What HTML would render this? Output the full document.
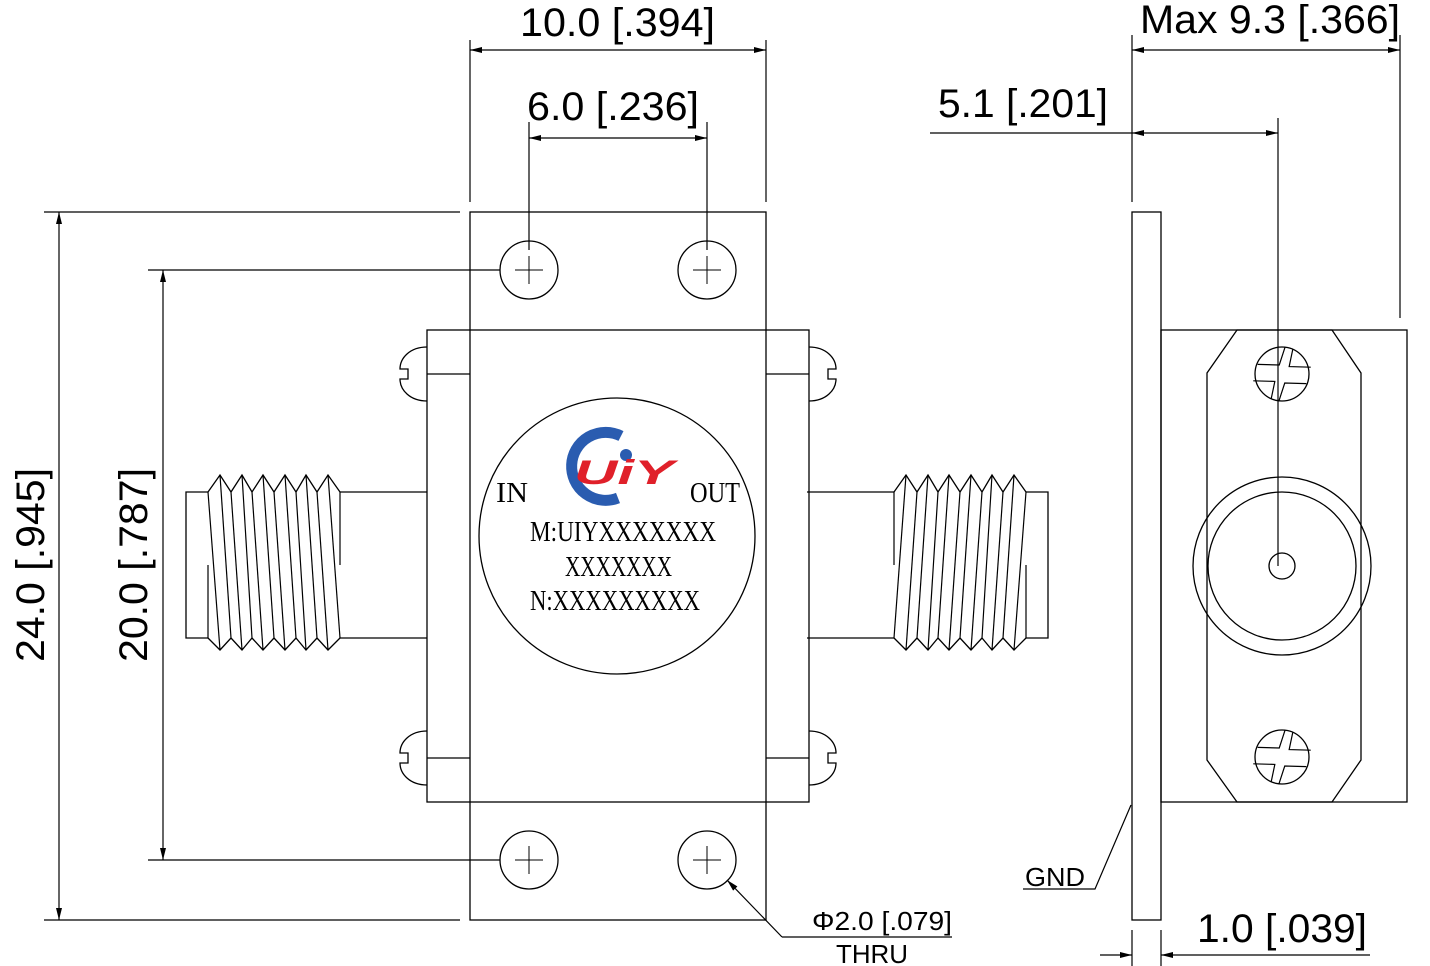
<!DOCTYPE html>
<html><head><meta charset="utf-8"><style>
html,body{margin:0;padding:0;background:#fff;}
svg{display:block;}
.d{font-family:"Liberation Sans",sans-serif;fill:#000;}
.s{font-family:"Liberation Serif",serif;fill:#000;}
</style></head><body>
<svg width="1430" height="966" viewBox="0 0 1430 966" xmlns="http://www.w3.org/2000/svg">
<defs>
<marker id="a" viewBox="0 0 12 6" refX="12" refY="3" markerWidth="12" markerHeight="6" orient="auto-start-reverse" markerUnits="userSpaceOnUse"><path d="M0,0 L12,3 L0,6 z" fill="#000"/></marker>
<g id="thr">
<polyline fill="none" stroke="#000" stroke-width="1.3" points="208,492 220,475 231,492 242,475 252,492 263,475 274,492 285,475 296,492 306,475 317,492 328,475 340,492"/>
<polyline fill="none" stroke="#000" stroke-width="1.3" points="208,638 220,650 231,638 242,650 252,638 263,650 274,638 285,650 296,638 306,650 317,638 328,650 340,638"/>
<g stroke="#000" stroke-width="1.2">
<line x1="208" y1="492" x2="220" y2="650"/><line x1="220" y1="475" x2="231" y2="638"/>
<line x1="231" y1="492" x2="242" y2="650"/><line x1="242" y1="475" x2="252" y2="638"/>
<line x1="252" y1="492" x2="263" y2="650"/><line x1="263" y1="475" x2="274" y2="638"/>
<line x1="274" y1="492" x2="285" y2="650"/><line x1="285" y1="475" x2="296" y2="638"/>
<line x1="296" y1="492" x2="306" y2="650"/><line x1="306" y1="475" x2="317" y2="638"/>
<line x1="317" y1="492" x2="328" y2="650"/><line x1="328" y1="475" x2="340" y2="638"/>
<line x1="208" y1="565" x2="208" y2="638"/><line x1="340" y1="492" x2="340" y2="565"/>
</g>
<path d="M208,492 H186 V638 H208 M340,492 H427 M340,638 H427" fill="none" stroke="#000" stroke-width="1.3"/>
</g>
<g id="scr">
<path d="M427,347 C410,347 400,358 400,369 H408 V379 H400 C400,390 410,401 427,401" fill="none" stroke="#000" stroke-width="1.3"/>
</g>
<g id="hole"><circle r="29" fill="none" stroke="#000" stroke-width="1.3"/><path d="M-14,0 H14 M0,-14 V14" stroke="#000" stroke-width="1"/></g>
<g id="ph"><circle r="27" fill="none" stroke="#000" stroke-width="1.3"/>
<path d="M-26,-3 L-5,-8 L-4,-27 M4,-27 L5,-9 L26,-14 M26,3 L5,8 L4,27 M-4,27 L-5,9 L-26,14" fill="none" stroke="#000" stroke-width="1.2" transform="rotate(15)"/></g>
</defs>
<g fill="none" stroke="#000" stroke-width="1.3">
<rect x="470" y="212" width="296" height="708"/>
<rect x="427" y="330" width="382" height="472"/>
<path d="M427,374 H470 M766,374 H809 M427,758 H470 M766,758 H809"/>
<circle cx="617" cy="536" r="138"/>
<rect x="1132" y="212" width="29" height="708"/>
<rect x="1161" y="330" width="246" height="472"/>
<polygon points="1237,330 1332,330 1361,373 1361,760 1332,802 1237,802 1207,760 1207,373"/>
<circle cx="1282" cy="566" r="89"/><circle cx="1282" cy="566" r="74"/><circle cx="1282" cy="566" r="13"/>
</g>
<use href="#ph" x="1282" y="374"/><use href="#ph" x="1282" y="757"/>
<use href="#thr"/>
<use href="#thr" transform="translate(1234,0) scale(-1,1)"/>
<use href="#scr"/><use href="#scr" y="384"/>
<use href="#scr" transform="translate(1236,0) scale(-1,1)"/><use href="#scr" transform="translate(1236,384) scale(-1,1)"/>
<use href="#hole" x="529" y="270"/><use href="#hole" x="707" y="270"/><use href="#hole" x="529" y="860"/><use href="#hole" x="707" y="860"/>
<g stroke="#000" stroke-width="1.2" fill="none">
<path d="M470,40 V202 M766,40 V202 M529,122 V250 M707,122 V250"/>
<line x1="470" y1="50" x2="766" y2="50" marker-start="url(#a)" marker-end="url(#a)"/>
<line x1="529" y1="138" x2="707" y2="138" marker-start="url(#a)" marker-end="url(#a)"/>
<path d="M44,212 H460 M148,270 H500 M44,920 H460 M148,860 H500"/>
<line x1="59" y1="212" x2="59" y2="920" marker-start="url(#a)" marker-end="url(#a)"/>
<line x1="163" y1="270" x2="163" y2="860" marker-start="url(#a)" marker-end="url(#a)"/>
<path d="M1132,35 V202 M1400,35 V318 M1278,118 V566"/>
<line x1="1132" y1="50" x2="1400" y2="50" marker-start="url(#a)" marker-end="url(#a)"/>
<path d="M930,133 H1132"/>
<line x1="1132" y1="133" x2="1278" y2="133" marker-start="url(#a)" marker-end="url(#a)"/>
<path d="M1132,930 V966 M1161,930 V966"/>
<line x1="1100" y1="955" x2="1132" y2="955" marker-end="url(#a)"/>
<line x1="1370" y1="955" x2="1161" y2="955" marker-end="url(#a)"/>
<polyline points="1023,889 1095,889 1131,805"/>
<line x1="782" y1="937" x2="727" y2="880" marker-end="url(#a)"/>
<path d="M782,937 H952"/>
</g>
<g class="d" font-size="40">
<text x="520" y="36" textLength="195" lengthAdjust="spacingAndGlyphs">10.0 [.394]</text>
<text x="527" y="120" textLength="172" lengthAdjust="spacingAndGlyphs">6.0 [.236]</text>
<text x="1140" y="33" textLength="260" lengthAdjust="spacingAndGlyphs">Max 9.3 [.366]</text>
<text x="938" y="117" textLength="170" lengthAdjust="spacingAndGlyphs">5.1 [.201]</text>
<text x="1197" y="942" textLength="170" lengthAdjust="spacingAndGlyphs">1.0 [.039]</text>
<text transform="translate(44,662) rotate(-90)" textLength="194" lengthAdjust="spacingAndGlyphs">24.0 [.945]</text>
<text transform="translate(147,662) rotate(-90)" textLength="194" lengthAdjust="spacingAndGlyphs">20.0 [.787]</text>
</g>
<g class="d" font-size="26">
<text x="1025" y="886" textLength="60" lengthAdjust="spacingAndGlyphs">GND</text>
<text x="812" y="930" textLength="140" lengthAdjust="spacingAndGlyphs">Φ2.0 [.079]</text>
<text x="836" y="963" textLength="72" lengthAdjust="spacingAndGlyphs">THRU</text>
</g>
<g class="s" font-size="28">
<text x="496" y="502" textLength="32" lengthAdjust="spacingAndGlyphs">IN</text>
<text x="690" y="502" textLength="50" lengthAdjust="spacingAndGlyphs">OUT</text>
<text x="530" y="541" textLength="186" lengthAdjust="spacingAndGlyphs">M:UIYXXXXXXX</text>
<text x="565" y="576" textLength="107" lengthAdjust="spacingAndGlyphs">XXXXXXX</text>
<text x="530" y="610" textLength="170" lengthAdjust="spacingAndGlyphs">N:XXXXXXXXX</text>
</g>
<path d="M621,436 A34,34 0 1 0 618,498" fill="none" stroke="#2a5cb0" stroke-width="11"/>
<circle cx="626" cy="455" r="6" fill="#2a5cb0"/>
<text x="574" y="484" font-family="Liberation Sans,sans-serif" font-weight="bold" font-style="italic" font-size="34" fill="#e0202a" textLength="100" lengthAdjust="spacingAndGlyphs">UiY</text>
</svg>
</body></html>
